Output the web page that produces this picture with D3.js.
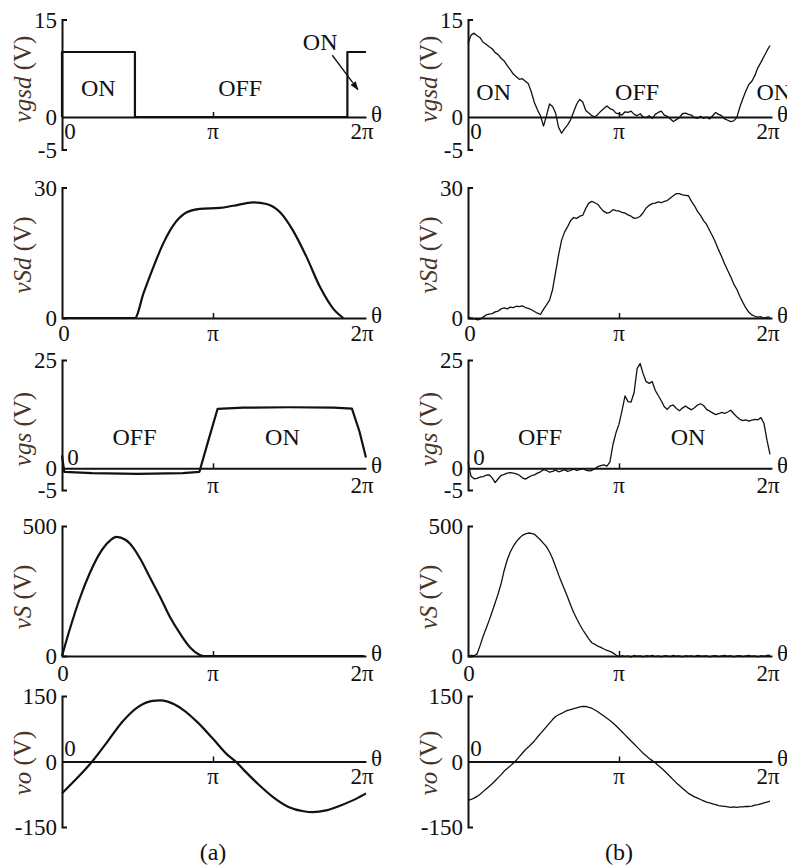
<!DOCTYPE html>
<html>
<head>
<meta charset="utf-8">
<script src="https://cdn.jsdelivr.net/npm/d3@7"></script>
<style>
  body { margin: 0; background: #fff; }
  svg { display: block; font-family: "Liberation Serif", "DejaVu Serif", serif; }
</style>
</head>
<body>
<div id="chart"></div>
<script>
// theta values are in units of pi
// (a) simulated waveforms: [theta, value]
const simVgsd = [[0,0],[0,10],[0.483,10],[0.483,0],[1.89,0],[1.89,10],[2.013,10]];
const simVsd = [[0,0],[0.483,0],[0.54,5.7],[0.605,11.7],[0.67,17.1],[0.737,21.3],[0.826,24.3],[0.914,25.1],
  [1.046,25.3],[1.134,25.8],[1.267,26.6],[1.355,26.2],[1.444,24.3],[1.53,20.1],[1.62,14],[1.709,7.1],[1.797,2.1],[1.863,0]];
const simVgs = [[0,3],[0.015,-0.8],[0.2,-1.1],[0.5,-1.3],[0.8,-1.1],[0.91,-0.8],[0.97,6.5],[1.03,13.7],
  [1.2,14.0],[1.5,14.1],[1.8,14.0],[1.92,13.8],[1.97,8.5],[2.013,2.5]];
const simVs = [[0,0],[0.05,100],[0.12,225],[0.185,320],[0.25,395],[0.32,445],[0.36,458],[0.42,447],[0.47,418],
  [0.52,372],[0.58,305],[0.65,227],[0.715,150],[0.78,88],[0.85,32],[0.91,5],[0.94,0],[2.0,0]];
const simVo = [[0,-73],[0.1,-38],[0.2,0],[0.3,45],[0.4,91],[0.5,124],[0.6,139],[0.65,140],[0.7,137],[0.8,119],
  [0.9,89],[1.0,52],[1.1,14],[1.15,0],[1.2,-18],[1.3,-52],[1.4,-82],[1.5,-104],[1.6,-114],[1.66,-116],
  [1.75,-112],[1.85,-100],[1.95,-85],[2.013,-73]];

// (b) measured waveforms, sampled every 0.02 pi from 0 to 2 pi
const measVgsd = [11.3,12.6,12.9,12.5,12.2,11.5,11.2,10.8,10.5,9.9,
  9.6,9.0,8.6,7.9,7.3,6.6,6.2,5.8,5.9,5.5,
  5.1,3.8,2.2,1.1,0.2,-1.4,0.2,2.0,1.6,0.6,
  -1.6,-2.5,-1.8,-1.2,-0.4,0.8,2.0,2.7,2.3,1.0,
  0.6,0.2,0.0,0.4,0.9,1.3,1.7,1.3,1.1,0.6,
  0.5,0.3,0.8,0.7,0.9,0.4,0.2,0.5,0.0,-0.1,
  0.2,-0.2,0.4,0.7,0.9,0.3,0.1,-0.3,-0.7,-0.4,
  -0.1,0.5,0.6,0.4,0.3,-0.1,-0.2,0.1,-0.2,0.0,
  -0.3,0.2,0.7,0.4,0.2,-0.3,-0.5,-0.7,-0.6,-0.1,
  1.5,2.8,4.0,5.0,5.5,6.4,7.6,8.4,9.3,10.2,
  11.0];
const measVsd = [0.3,-0.1,-0.2,-0.4,-0.3,0.2,0.7,0.9,1.0,1.4,
  1.6,2.1,2.3,2.1,2.5,2.4,2.7,2.6,2.8,2.4,
  2.2,1.9,1.5,1.1,0.8,2.0,3.0,4.1,6.5,10.5,
  14.5,17.9,19.8,21.0,22.4,23.1,22.9,23.4,23.6,25.2,
  26.4,26.8,26.5,26.1,25.2,24.5,24.1,24.3,24.9,24.7,
  24.6,24.3,24.1,23.7,23.4,22.9,23.0,23.4,24.2,25.3,
  25.9,26.3,26.4,26.7,26.5,26.8,27.0,27.6,28.1,28.6,
  28.6,28.3,28.2,28.1,26.8,25.8,24.5,23.6,22.4,21.5,
  20.1,18.8,17.3,15.6,14.1,12.4,10.9,9.5,7.8,6.6,
  5.0,3.6,2.3,1.3,0.7,0.4,0.2,0.3,-0.1,0.2,
  0.2];
const measVgs = [1.5,-1.8,-2.4,-2.3,-2.0,-1.9,-1.6,-1.5,-2.2,-3.3,
  -2.4,-1.6,-1.4,-1.1,-1.0,-1.1,-1.3,-1.6,-2.2,-2.5,
  -2.1,-1.7,-1.5,-1.1,-0.8,-0.3,-0.5,-0.9,-0.7,-0.4,
  -0.8,-0.6,-0.3,-0.7,-0.5,-0.2,-0.5,-0.3,-0.1,-0.4,
  -0.6,-0.5,-0.1,0.4,0.6,0.8,0.5,1.5,5.5,8.2,
  10.2,13.3,16.7,15.4,15.3,17.5,23.0,24.2,21.8,20.0,
  19.6,20.0,18.0,16.8,15.6,14.2,13.6,14.4,14.6,13.8,
  13.3,13.9,14.4,13.9,13.5,14.0,14.6,14.9,14.5,13.6,
  13.2,12.8,12.4,12.6,12.9,12.7,13.0,13.4,12.6,11.9,
  11.3,11.0,11.2,10.9,11.1,11.3,11.2,11.7,10.4,6.5,
  3.2];
const measVs = [0,2,1,8,40,76,106,137,170,205,
  240,280,330,370,400,422,440,453,464,470,
  473,472,468,458,446,433,420,400,375,344,
  312,283,255,226,195,167,143,121,101,83,
  66,51,45,38,33,27,22,18,12,4,
  -3,1,-2,0,-4,2,-1,0,-3,1,
  -1,2,-2,0,-3,1,0,-2,2,-1,
  0,-3,1,-1,0,-2,2,0,-1,1,
  -3,0,1,-2,0,2,-1,1,-3,0,
  1,-2,0,2,-1,0,-3,1,-1,2,
  3];
const measVo = [-89,-87,-84,-80,-75,-69,-63,-57,-51,-44,
  -37,-30,-22,-16,-10,-4,3,11,19,27,
  33,40,47,56,64,72,80,88,96,103,
  107,110,114,117,119,121,123,125,126,126,
  124,122,118,114,109,104,99,94,88,82,
  75,68,61,54,47,40,33,26,19,13,
  7,2,-3,-9,-15,-21,-28,-35,-42,-49,
  -55,-61,-67,-73,-77,-81,-84,-87,-90,-93,
  -95,-97,-99,-101,-102,-103,-104,-105,-104,-105,
  -104,-104,-103,-103,-102,-100,-99,-97,-95,-93,
  -91];
const measTheta = measVo.map((d, i) => i / 50);

const yNames = ["vgsd", "vSd", "vgs", "vS", "vo"];
const yDomains = [[-5, 15], [0, 30], [-5, 25], [0, 500], [-150, 150]];
const yTicks = [[-5, 0, 15], [0, 30], [-5, 0, 25], [0, 500], [-150, 0, 150]];
const xTickLabels = ["0", "π", "2π"];

// layout
const colX = [62, 468];
const yRanges = [[149.5, 19.5], [318, 187.5], [490, 360], [656, 526], [827, 696]];
const labelY = [79, 255, 429, 597, 763];
const zeroLab = [[8, 14], [2, 15], [11, -11], [1, 17], [8, -13]];
const piDy = [14, 15, 17, 17, 15];

const simSeries = [simVgsd, simVsd, simVgs, simVs, simVo];
const simCurves = [d3.curveLinear, d3.curveMonotoneX, d3.curveLinear, d3.curveMonotoneX, d3.curveMonotoneX];
const measSeries = [measVgsd, measVsd, measVgs, measVs, measVo];

const notes = {
  "0-0": [{t: 0.24, v: 4.5, s: "ON"}, {t: 1.18, v: 4.5, s: "OFF"}, {t: 1.71, v: 11.5, s: "ON"}],
  "0-1": [{t: 0.17, v: 3.8, s: "ON"}, {t: 1.12, v: 3.8, s: "OFF"}, {t: 1.91, v: 3.8, s: "ON", a: "start"}],
  "2-0": [{t: 0.48, v: 7.2, s: "OFF"}, {t: 1.46, v: 7.2, s: "ON"}],
  "2-1": [{t: 0.477, v: 7.2, s: "OFF"}, {t: 1.457, v: 7.2, s: "ON"}]
};

const svg = d3.select("#chart").append("svg").attr("width", 787).attr("height", 865);

svg.append("defs").append("marker")
  .attr("id", "arrow")
  .attr("viewBox", "0 0 10 10")
  .attr("refX", 9).attr("refY", 5)
  .attr("markerWidth", 7).attr("markerHeight", 7)
  .attr("orient", "auto")
  .append("path").attr("d", "M0,1.5 L10,5 L0,8.5 z").attr("fill", "#111");

const x = d3.scaleLinear().domain([0, 2]).range([0, 302]);
const xEnd = 2.013;

yNames.forEach((name, p) => {
  const y = d3.scaleLinear().domain(yDomains[p]).range(yRanges[p]);

  [0, 1].forEach(c => {
    const g = svg.append("g").attr("transform", `translate(${colX[c]},0)`);

    // y label
    const lab = g.append("text")
      .attr("transform", `translate(-40,${labelY[p]}) rotate(-90)`)
      .attr("text-anchor", "middle")
      .attr("dominant-baseline", "central")
      .attr("font-size", 25)
      .attr("fill", "#4a3428");
    lab.append("tspan").attr("font-style", "italic").text(name);
    lab.append("tspan").text(" (V)");

    // y axis
    const ya = g.append("g")
      .call(d3.axisLeft(y).tickValues(yTicks[p]).tickSizeInner(0).tickSizeOuter(-5)
        .tickPadding(5).tickFormat(d => String(d)));
    ya.attr("font-size", 23).attr("font-family", null).attr("color", "#111");
    ya.select(".domain").attr("stroke-width", 2);
    ya.selectAll(".tick text").attr("dy", null).attr("dominant-baseline", "central");

    // x axis
    const xs = d3.scaleLinear().domain([0, xEnd]).range([0, x(xEnd)]);
    const xa = g.append("g")
      .attr("transform", `translate(0,${y(0)})`)
      .call(d3.axisBottom(xs).tickValues([1]).tickSizeInner(-5).tickSizeOuter(0).tickFormat(() => ""));
    xa.attr("color", "#111");
    xa.select(".domain").attr("stroke-width", 2);
    xa.selectAll(".tick line").attr("stroke-width", 1.5);

    // x tick labels
    const tx = g.append("g").attr("font-size", 23).attr("fill", "#111")
      .attr("text-anchor", "middle").attr("dominant-baseline", "central");
    tx.append("text").attr("x", x(0) + zeroLab[p][0]).attr("y", y(0) + zeroLab[p][1]).text(xTickLabels[0]);
    tx.append("text").attr("x", x(1)).attr("y", y(0) + piDy[p]).text(xTickLabels[1]);
    tx.append("text").attr("x", x(2) - 2).attr("y", y(0) + piDy[p]).text(xTickLabels[2]);
    tx.append("text").attr("x", x(xEnd) + 5).attr("y", y(0) - 3).attr("text-anchor", "start").text("θ");

    // waveform
    const line = d3.line().x(d => x(d[0])).y(d => y(d[1]));
    if (c === 0) {
      g.append("path")
        .datum(simSeries[p])
        .attr("d", line.curve(simCurves[p]))
        .attr("fill", "none")
        .attr("stroke", "#111")
        .attr("stroke-width", 2.2)
        .attr("stroke-linejoin", "round");
    } else {
      g.append("path")
        .datum(measSeries[p].map((v, i) => [measTheta[i], v]))
        .attr("d", line.curve(d3.curveLinear))
        .attr("fill", "none")
        .attr("stroke", "#111")
        .attr("stroke-width", 1.3)
        .attr("stroke-linejoin", "round");
    }

    // ON / OFF notes
    (notes[p + "-" + c] || []).forEach(n => {
      g.append("text")
        .attr("x", x(n.t)).attr("y", y(n.v))
        .attr("text-anchor", n.a || "middle")
        .attr("dominant-baseline", "central")
        .attr("font-size", 24)
        .attr("fill", "#111")
        .text(n.s);
    });

    if (p === 0 && c === 0) {
      g.append("line")
        .attr("x1", x(1.79)).attr("y1", y(9.5))
        .attr("x2", x(1.96)).attr("y2", y(4.2))
        .attr("stroke", "#111").attr("stroke-width", 1.3)
        .attr("marker-end", "url(#arrow)");
    }

    if (p === yNames.length - 1) {
      g.append("text")
        .attr("x", x(1)).attr("y", 852)
        .attr("text-anchor", "middle").attr("dominant-baseline", "central")
        .attr("font-size", 24).attr("fill", "#111")
        .text(c === 0 ? "(a)" : "(b)");
    }
  });
});
</script>
</body>
</html>
